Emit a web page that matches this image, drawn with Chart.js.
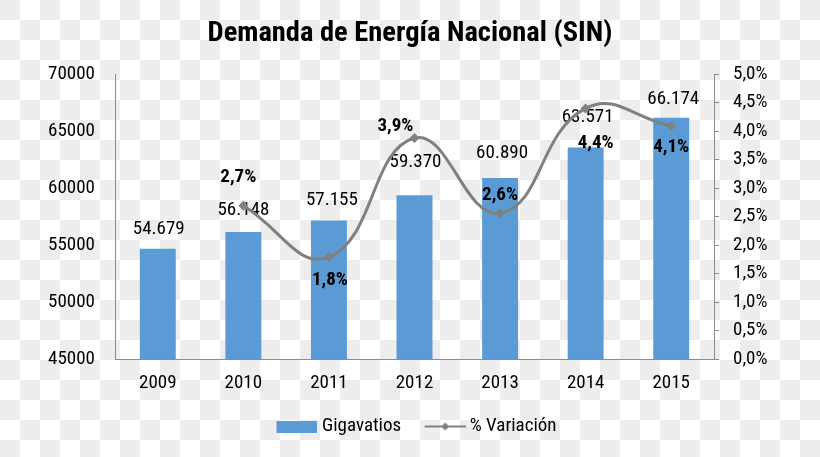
<!DOCTYPE html>
<html>
<head>
<meta charset="utf-8">
<script src="https://cdn.jsdelivr.net/npm/chart.js@4.4.0/dist/chart.umd.min.js"></script>
<style>
  html, body { margin: 0; padding: 0; }
  body {
    width: 820px; height: 457px; overflow: hidden;
    background-color: #fff;
    background-image: conic-gradient(#fff 0 25%, #ededed 0 50%, #fff 0 75%, #ededed 0);
    background-size: 40px 40px;
  }
  canvas { display: block; }
</style>
</head>
<body>
<canvas id="chart" width="820" height="457"></canvas>
<script>
// data
const years = ['2009', '2010', '2011', '2012', '2013', '2014', '2015'];
const gigavatios = [54679, 56148, 57155, 59370, 60890, 63571, 66174];
const variacion = [null, 2.69, 1.79, 3.88, 2.56, 4.40, 4.09];
const leftTicks = [45000, 50000, 55000, 60000, 65000, 70000];
const rightTicks = [0, 0.5, 1, 1.5, 2, 2.5, 3, 3.5, 4, 4.5, 5];

// hand-placed label nudges [dx, dy] from each mark, like the original
const barLabelShift = [[1, -19], [0, -22], [3, -20], [1, -33], [2, -25], [2, -30], [2, -19]];
const pctLabelShift = [null, [-5, -29], [1, 23], [-19, -12], [0, -18], [10, 35], [0, 21]];

const FONT = "'Roboto Condensed', 'Liberation Sans', sans-serif";
const FS = 19;
const BAR_COLOR = '#5b9bd5';
const LINE_COLOR = '#808080';
const AXIS = '#8c8c8c';

Chart.defaults.font.family = FONT;
Chart.defaults.font.size = FS;
Chart.defaults.color = '#000';

const thousands = v => String(v).replace(/\B(?=(\d{3})+(?!\d))/g, '.');
const pct = v => v.toFixed(1).replace('.', ',') + '%';

// legend symbols, drawn off to the right so the text sits close like in Excel
function makeSwatch(w, h, draw) {
    const c = document.createElement('canvas');
    c.width = w; c.height = h;
    draw(c.getContext('2d'));
    return c;
}
const barSwatch = makeSwatch(59, 12, g => {
    g.fillStyle = BAR_COLOR;
    g.fillRect(18, 0, 41, 12);
});
const lineSwatch = makeSwatch(60, 10, g => {
    g.strokeStyle = LINE_COLOR;
    g.lineWidth = 2;
    g.beginPath(); g.moveTo(19, 5); g.lineTo(60, 5); g.stroke();
    g.fillStyle = LINE_COLOR;
    g.beginPath(); g.moveTo(39.5, 1); g.lineTo(43.5, 5); g.lineTo(39.5, 9); g.lineTo(35.5, 5); g.closePath(); g.fill();
});

const valueLabels = {
    id: 'valueLabels',
    afterDatasetDraw(chart, args) {
        if (args.index !== 0) return;
        const ctx = chart.ctx;
        ctx.save();
        ctx.textAlign = 'center';
        ctx.textBaseline = 'middle';
        ctx.fillStyle = '#000';
        ctx.font = FS + 'px ' + FONT;
        args.meta.data.forEach((bar, i) => {
            const [dx, dy] = barLabelShift[i];
            ctx.fillText(thousands(gigavatios[i]), bar.x + dx, bar.y + dy);
        });
        ctx.restore();
    },
    afterDatasetsDraw(chart) {
        const ctx = chart.ctx;
        ctx.save();
        ctx.textAlign = 'center';
        ctx.textBaseline = 'middle';
        ctx.fillStyle = '#000';
        ctx.font = 'bold ' + FS + 'px ' + FONT;
        chart.getDatasetMeta(1).data.forEach((pt, i) => {
            if (variacion[i] == null) return;
            const [dx, dy] = pctLabelShift[i];
            ctx.fillText(pct(variacion[i]), pt.x + dx, pt.y + dy);
        });
        ctx.restore();
    }
};

new Chart(document.getElementById('chart'), {
    type: 'bar',
    data: {
        labels: years,
        datasets: [{
            label: 'Gigavatios',
            data: gigavatios,
            backgroundColor: BAR_COLOR,
            categoryPercentage: 1,
            barPercentage: 0.42,
            yAxisID: 'y',
            order: 1
        }, {
            type: 'line',
            label: '% Variación',
            data: variacion,
            borderColor: LINE_COLOR,
            borderWidth: 3,
            backgroundColor: LINE_COLOR,
            pointStyle: 'rectRot',
            pointRadius: 5,
            pointBorderWidth: 0,
            tension: 0.45,
            yAxisID: 'y1',
            order: 0
        }]
    },
    options: {
        responsive: false,
        animation: false,
        layout: { padding: { left: 0, right: 0, top: 0, bottom: 11 } },
        plugins: {
            title: {
                display: true,
                text: 'Demanda de Energía Nacional (SIN)',
                color: '#000',
                font: { size: 28.5, weight: 'bold' },
                padding: { top: 17, bottom: 23 }
            },
            legend: {
                position: 'bottom',
                labels: {
                    usePointStyle: true,
                    pointStyleWidth: 49,
                    padding: 10,
                    color: '#000',
                    font: { size: FS },
                    sort: (a, b) => a.datasetIndex - b.datasetIndex,
                    generateLabels: chart => Chart.defaults.plugins.legend.labels.generateLabels(chart)
                        .map(item => ({ ...item, pointStyle: item.datasetIndex === 0 ? barSwatch : lineSwatch }))
                }
            },
            tooltip: { enabled: false }
        },
        scales: {
            x: {
                grid: { display: false, drawTicks: false },
                border: { display: true, color: AXIS, width: 1 },
                ticks: { padding: 13 },
                afterFit: s => { s.height = 48; }
            },
            y: {
                position: 'left',
                min: 45000,
                max: 70000,
                afterBuildTicks: s => { s.ticks = leftTicks.map(v => ({ value: v })); },
                grid: { display: false, drawTicks: false },
                border: { display: true, color: AXIS, width: 1 },
                ticks: { padding: 20, callback: v => String(v) },
                afterFit: s => { s.width = 115; }
            },
            y1: {
                position: 'right',
                min: 0,
                max: 5,
                afterBuildTicks: s => { s.ticks = rightTicks.map(v => ({ value: v })); },
                grid: { drawOnChartArea: false, drawTicks: true, tickLength: 5, color: AXIS },
                border: { display: true, color: AXIS, width: 1 },
                ticks: { padding: 14, callback: v => pct(v) },
                afterFit: s => { s.width = 106; }
            }
        }
    },
    plugins: [valueLabels]
});
</script>
</body>
</html>
